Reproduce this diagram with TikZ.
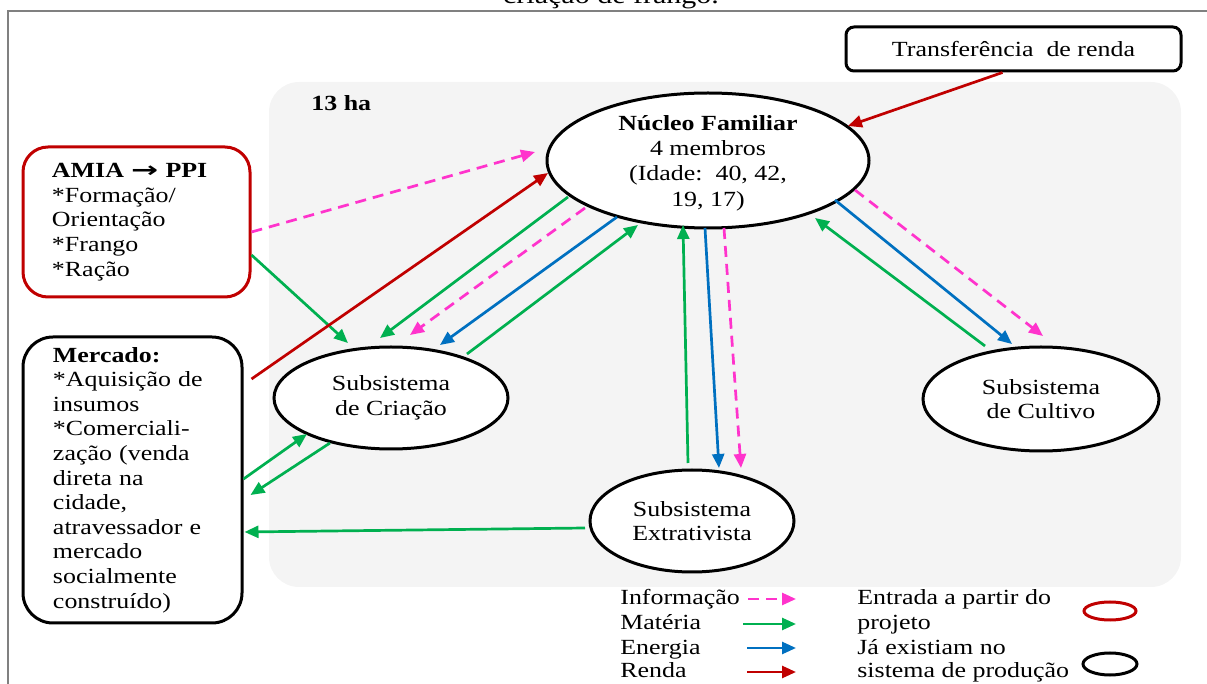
\documentclass[tikz,border=0pt]{standalone}
\usepackage{fontspec}
\setmainfont[FakeStretch=1.2]{Liberation Serif}
\newfontfamily\arrowfont[FakeStretch=1.5]{DejaVu Sans}
\usetikzlibrary{arrows.meta,calc,shapes.geometric}
\definecolor{cpink}{HTML}{FF33CC}
\definecolor{cgreen}{HTML}{00B050}
\definecolor{cblue}{HTML}{0070C0}
\definecolor{cred}{HTML}{C00000}
\definecolor{bggray}{HTML}{F4F4F4}
\definecolor{framegray}{HTML}{808080}
\newcommand\dfont{\fontsize{10.8pt}{12.3pt}\selectfont}
\begin{document}
\begin{tikzpicture}[x=0.5pt,y=-0.5pt,
  every node/.style={font=\dfont, inner sep=0pt},
  ell/.style={ellipse, draw=black, line width=1.5pt, fill=white},
  sbox/.style={draw, line width=1.5pt, fill=white, align=left},
  arr/.style={line width=1.35pt, -{Triangle[length=7pt,width=6pt]}},
  info/.style={arr, draw=cpink, dash pattern=on 5.5pt off 3.5pt},
  mat/.style={arr, draw=cgreen},
  ener/.style={arr, draw=cblue},
  rend/.style={arr, draw=cred},
  legtext/.style={anchor=base west}
]
\useasboundingbox (0,0) rectangle (1207,684);
% frame and title
\draw[framegray, line width=1pt] (8,684) -- (8,11) -- (1207,11);
\node[anchor=base, font=\fontsize{12.5pt}{14pt}\selectfont] (title) at (611,4) {criação de frango.};
% background area
\fill[bggray, rounded corners=15pt] (269,82) rectangle (1181,587);
\node[anchor=base west, font=\dfont\bfseries] (ha) at (311,111) {13 ha};
% nodes
\node[sbox, rounded corners=4pt, minimum width=167.5pt, minimum height=22pt, align=center] (tr) at (1013.5,49) {Transferência\ \ de renda};
\node[ell, minimum width=161pt, minimum height=67.5pt] (nf) at (708,160.5) {};
\node[align=center, font=\fontsize{10.8pt}{12.6pt}\selectfont] (nft) at (708,163) {\textbf{Núcleo Familiar}\\4 membros\\(Idade:\ \ 40, 42,\\19, 17)};
\node[ell, minimum width=117pt, minimum height=51pt] (cr) at (391,398) {};
\node[align=center] (crt) at (cr) {Subsistema\\de Criação};
\node[ell, minimum width=118pt, minimum height=52pt] (cu) at (1041,399) {};
\node[align=center] (cut) at (cu) {Subsistema\\de Cultivo};
\node[ell, minimum width=102pt, minimum height=51pt] (ex) at (692,521) {};
\node[align=center] (ext) at (ex) {Subsistema\\Extrativista};
\node[sbox, draw=cred, rounded corners=12.5pt, minimum height=75pt, text width=84.5pt, inner xsep=14.5pt] (amia) at (136.5,222)
  {\textbf{AMIA {\arrowfont\bfseries →} PPI}\\{}*Formação/\\Orientação\\{}*Frango\\{}*Ração};
\node[sbox, draw=black, rounded corners=15pt, minimum height=143pt, text width=79.5pt, inner xsep=15pt] (merc) at (132.5,480)
  {\textbf{Mercado:}\\{}*Aquisição de\\insumos\\{}*Comerciali-\\zação (venda\\direta na\\cidade,\\atravessador e\\mercado\\socialmente\\construído)};
% connectors
\draw[rend] ($(tr.south)+(-11,0)$) -- ($(nf)+(140,-34.5)$);
\draw[info] ($(amia.east)+(0,10)$) -- ($(nf)+(-173,-8.5)$);
\draw[mat] ($(amia.east)+(0,33)$) -- ($(cr)+(-43,-55)$);
\draw[rend] ($(merc.east)+(8,-101)$) -- ($(nf)+(-160,12.5)$);
\draw[mat] ($(nf)+(-140,36.5)$) -- ($(cr)+(-11,-60)$);
\draw[info] ($(nf)+(-123,47.5)$) -- ($(cr)+(19,-63)$);
\draw[ener] ($(nf)+(-91,56.5)$) -- ($(cr)+(49,-53)$);
\draw[mat] ($(cr)+(76,-44)$) -- ($(nf)+(-70,64.5)$);
\draw[mat] ($(ex)+(-4,-58)$) -- ($(nf)+(-25,64.5)$);
\draw[ener] ($(nf)+(-3,67.5)$) -- ($(ex)+(27,-53)$);
\draw[info] ($(nf)+(16,67.5)$) -- ($(ex)+(49,-53)$);
\draw[mat] ($(cu)+(-56,-53)$) -- ($(nf)+(107,57.5)$);
\draw[ener] ($(nf)+(127,39.5)$) -- ($(cu)+(-29,-55)$);
\draw[info] ($(nf)+(147,29.5)$) -- ($(cu)+(2,-63)$);
\draw[mat] ($(merc.east)+(0,-1)$) -- ($(cr)+(-84,36)$);
\draw[mat] ($(cr)+(-61,45)$) -- ($(merc.east)+(7,15)$);
\draw[mat] ($(ex)+(-107,7)$) -- ($(merc.east)+(1,52)$);
% legend
\node[legtext] (lg1) at (620,605) {Informação};
\node[legtext] (lg2) at (620,630) {Matéria};
\node[legtext] (lg3) at (620,654) {Energia};
\node[legtext] (lg4) at (620,678) {Renda};
\coordinate (l1s) at (748,599); \coordinate (l1e) at (796,599);
\coordinate (l2s) at (743,624); \coordinate (l2e) at (796,624);
\coordinate (l3s) at (747,648); \coordinate (l3e) at (796,648);
\coordinate (l4s) at (747,672); \coordinate (l4e) at (796,672);
\draw[info] (l1s) -- (l1e);
\draw[mat] (l2s) -- (l2e);
\draw[ener] (l3s) -- (l3e);
\draw[rend] (l4s) -- (l4e);
\node[legtext] (le1) at (857,605) {Entrada a partir do};
\node[legtext] (le2) at (857,630) {projeto};
\node[legtext] (le3) at (857,654) {Já existiam no};
\node[legtext] (le4) at (857,678) {sistema de produção};
\node[ellipse, draw=cred, line width=1.5pt, minimum width=26pt, minimum height=9pt] (lred) at (1110,611) {};
\node[ellipse, draw=black, line width=1.5pt, minimum width=27pt, minimum height=11pt] (lblk) at (1110,664) {};
\end{tikzpicture}
\end{document}
